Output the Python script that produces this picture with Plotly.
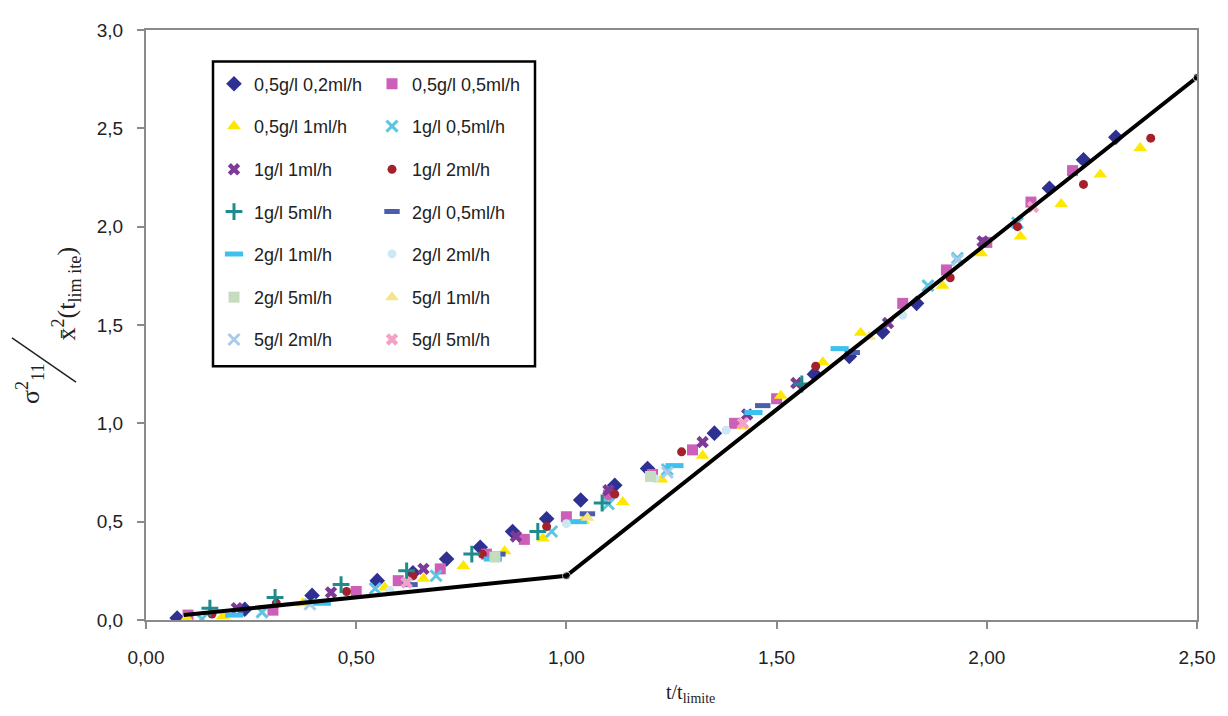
import plotly.graph_objects as go

# ---------------- data ----------------
names = ["0,5g/l 0,2ml/h", "0,5g/l 0,5ml/h", "0,5g/l 1ml/h", "1g/l 0,5ml/h",
         "1g/l 1ml/h", "1g/l 2ml/h", "1g/l 5ml/h", "2g/l 0,5ml/h",
         "2g/l 1ml/h", "2g/l 2ml/h", "2g/l 5ml/h", "5g/l 1ml/h",
         "5g/l 2ml/h", "5g/l 5ml/h"]

s1_x = [0.074, 0.235, 0.395, 0.55, 0.635, 0.715, 0.795, 0.872, 0.953, 1.034, 1.115, 1.193, 1.352, 1.59, 1.673, 1.752, 1.833, 2.149, 2.23, 2.307]
s1_y = [0.01, 0.055, 0.125, 0.20, 0.24, 0.31, 0.37, 0.45, 0.515, 0.61, 0.685, 0.77, 0.95, 1.25, 1.34, 1.465, 1.61, 2.195, 2.34, 2.455]

s2_x = [0.10, 0.302, 0.50, 0.60, 0.70, 0.81, 0.90, 1.00, 1.10, 1.205, 1.30, 1.40, 1.50, 1.80, 1.904, 2.00, 2.105, 2.204]
s2_y = [0.025, 0.05, 0.145, 0.20, 0.26, 0.335, 0.41, 0.525, 0.635, 0.74, 0.865, 1.00, 1.125, 1.61, 1.78, 1.92, 2.125, 2.285]

s3_x = [0.097, 0.183, 0.373, 0.568, 0.66, 0.755, 0.853, 0.944, 1.04, 1.134, 1.226, 1.324, 1.42, 1.51, 1.61, 1.70, 1.895, 1.987, 2.08, 2.177, 2.27, 2.365]
s3_y = [0.01, 0.02, 0.085, 0.165, 0.21, 0.275, 0.35, 0.415, 0.505, 0.60, 0.715, 0.835, 0.985, 1.14, 1.31, 1.46, 1.70, 1.865, 1.95, 2.115, 2.265, 2.40]

s4_x = [0.133, 0.276, 0.545, 0.69, 0.965, 1.10, 1.24, 1.86, 1.93, 2.073]
s4_y = [0.005, 0.04, 0.16, 0.225, 0.45, 0.59, 0.765, 1.70, 1.84, 2.02]

s5_x = [0.216, 0.44, 0.66, 0.88, 1.10, 1.324, 1.43, 1.547, 1.765, 1.99]
s5_y = [0.06, 0.14, 0.26, 0.425, 0.66, 0.905, 1.045, 1.205, 1.51, 1.925]

s6_x = [0.157, 0.31, 0.477, 0.635, 0.80, 0.953, 1.115, 1.274, 1.593, 1.913, 2.073, 2.23, 2.39]
s6_y = [0.03, 0.085, 0.145, 0.225, 0.335, 0.475, 0.64, 0.855, 1.29, 1.74, 2.00, 2.215, 2.45]

s7_x = [0.152, 0.307, 0.464, 0.62, 0.775, 0.932, 1.085, 1.56]
s7_y = [0.06, 0.115, 0.18, 0.25, 0.335, 0.45, 0.595, 1.20]

s8_x = [0.628, 0.837, 1.05, 1.467, 1.68]
s8_y = [0.18, 0.335, 0.54, 1.09, 1.36]

s9_x = [0.21, 0.418, 0.825, 1.027, 1.257, 1.445, 1.65]
s9_y = [0.025, 0.085, 0.31, 0.50, 0.785, 1.055, 1.38]

s10_x = [0.58, 1.00, 1.21, 1.38, 1.80]
s10_y = [0.15, 0.49, 0.72, 0.965, 1.55]

s11_x = [0.83, 1.20]
s11_y = [0.32, 0.73]

s12_x = [1.05, 1.72]
s12_y = [0.52, 1.44]

s13_x = [0.39, 1.24, 1.93]
s13_y = [0.08, 0.75, 1.83]

s14_x = [0.62, 1.42, 2.11]
s14_y = [0.19, 1.00, 2.10]

line_x = [0.09, 1.00, 2.50]
line_y = [0.025, 0.225, 2.76]

x_ticks = [0.0, 0.5, 1.0, 1.5, 2.0, 2.5]
x_ticktext = ["0,00", "0,50", "1,00", "1,50", "2,00", "2,50"]
y_ticks = [0.0, 0.5, 1.0, 1.5, 2.0, 2.5, 3.0]
y_ticktext = ["0,0", "0,5", "1,0", "1,5", "2,0", "2,5", "3,0"]

# ---------------- styles ----------------
xs = [s1_x, s2_x, s3_x, s4_x, s5_x, s6_x, s7_x, s8_x, s9_x, s10_x, s11_x, s12_x, s13_x, s14_x]
ys = [s1_y, s2_y, s3_y, s4_y, s5_y, s6_y, s7_y, s8_y, s9_y, s10_y, s11_y, s12_y, s13_y, s14_y]
colors = ["#2E3192", "#CC5FB8", "#FFE800", "#5CC6E2", "#7D3A96", "#A3202C", "#1E8C8C",
          "#4A5DB0", "#3EC1EC", "#CDE8F2", "#C5DCBE", "#F2E58A", "#A9CBEA", "#F2A2C4"]
symbols = ["diamond", "square", "triangle-up", "x-thin-open", "x", "circle", "cross-thin-open",
           "line-ew-open", "line-ew-open", "circle", "square", "triangle-up", "x-thin-open", "x"]
sizes = [12, 11, 12, 11, 11, 9, 12, 11, 13, 9, 11, 12, 11, 11]

FONT = "Liberation Sans, Arial, sans-serif"
SERIF = "Liberation Serif, Times New Roman, serif"
TXT = "#222222"

fig = go.Figure()

for i in range(14):
    row = i // 2 + 1
    sym = symbols[i]
    if sym.endswith("-open"):
        lw = 5 if sym.startswith("line") else 3
        marker = dict(symbol=sym, size=sizes[i], color=colors[i],
                      line=dict(color=colors[i], width=lw))
    else:
        marker = dict(symbol=sym, size=sizes[i], color=colors[i], line=dict(width=0))
    fig.add_trace(go.Scatter(
        x=xs[i], y=ys[i], mode="markers", name=names[i], marker=marker,
        legend="legend" if row == 1 else f"legend{row}",
    ))

fig.add_trace(go.Scatter(
    x=line_x, y=line_y, mode="lines+markers", showlegend=False,
    line=dict(color="black", width=4),
    marker=dict(color="black", size=[0, 8, 8]),
))

# ---------------- layout ----------------
OFF = 8  # page body margin
W, H = 1228 - OFF, 716 - OFF
PL, PR, PT, PB = 146, 1197, 20, 620  # plot area in window pixels
L, R, T, B = PL - OFF, W - (PR - OFF), PT - OFF, H - (PB - OFF)
pw, ph = PR - PL, PB - PT


def px_x(px):
    return (px - PL) / pw


def px_y(py):
    return (PB - py) / ph


row_centers = [75, 118, 162, 205, 248, 292, 335]
legends = {}
for r, cy in enumerate(row_centers, start=1):
    key = "legend" if r == 1 else f"legend{r}"
    legends[key] = dict(
        orientation="h", x=px_x(214), xanchor="left", y=px_y(cy), yanchor="middle",
        entrywidth=113, entrywidthmode="pixels",
        bgcolor="rgba(0,0,0,0)", borderwidth=0,
        font=dict(family=FONT, size=18, color=TXT),
        itemclick=False, itemdoubleclick=False,
    )

fig.update_layout(
    width=W, height=H,
    margin=dict(l=L, r=R, t=T, b=B),
    plot_bgcolor="white", paper_bgcolor="white",
    font=dict(family=FONT, size=18, color=TXT),
    showlegend=True,
    **legends,
    shapes=[
        dict(type="rect", xref="paper", yref="paper",
             x0=px_x(213), x1=px_x(535), y0=px_y(362), y1=px_y(52),
             line=dict(color="black", width=2.5), fillcolor="rgba(0,0,0,0)"),
        dict(type="line", xref="paper", yref="paper",
             x0=px_x(12), y0=px_y(333), x1=px_x(76), y1=px_y(378),
             line=dict(color="#222222", width=1.5)),
    ],
    annotations=[
        dict(text="t/t<sub>limite</sub>", xref="paper", yref="paper",
             x=px_x(690), y=px_y(695), xanchor="center", yanchor="middle",
             showarrow=False, font=dict(family=SERIF, size=20, color=TXT)),
        dict(text="σ<sup>2</sup><sub>11</sub>",
             xref="paper", yref="paper", textangle=-90,
             x=px_x(30), y=px_y(380), xanchor="center", yanchor="middle",
             showarrow=False, font=dict(family=SERIF, size=26, color=TXT)),
        dict(text="x̄<sup>2</sup>(t<sub>lim ite</sub>)",
             xref="paper", yref="paper", textangle=-90,
             x=px_x(66), y=px_y(288), xanchor="center", yanchor="middle",
             showarrow=False, font=dict(family=SERIF, size=26, color=TXT)),
    ],
)

fig.update_xaxes(
    range=[0, 2.5], tickvals=x_ticks, ticktext=x_ticktext,
    showgrid=False, zeroline=False,
    showline=True, linecolor="#8a8a8a", linewidth=2, mirror=True,
    ticks="outside", ticklen=7, tickcolor="#8a8a8a", tickwidth=2,
    ticklabelstandoff=12,
    tickfont=dict(family=FONT, size=19, color=TXT),
)
fig.update_yaxes(
    range=[0, 3.0], tickvals=y_ticks, ticktext=y_ticktext,
    showgrid=False, zeroline=False,
    showline=True, linecolor="#8a8a8a", linewidth=2, mirror=True,
    ticks="outside", ticklen=7, tickcolor="#8a8a8a", tickwidth=2,
    ticklabelstandoff=10,
    tickfont=dict(family=FONT, size=19, color=TXT),
)

fig.write_html("out.html")
